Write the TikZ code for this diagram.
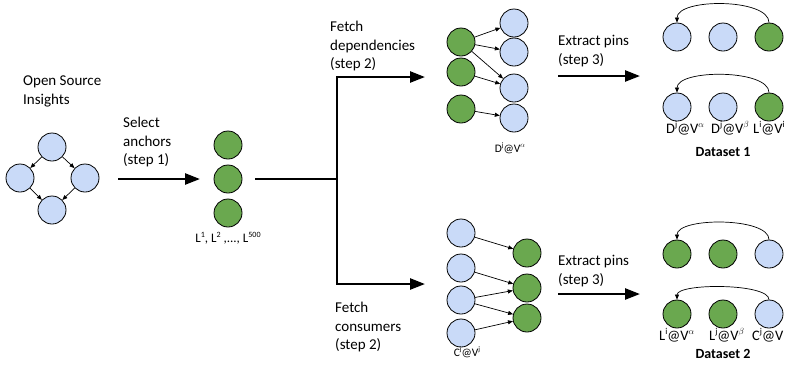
\documentclass[tikz,border=0pt]{standalone}
\usepackage{fontspec}
\setmainfont{Carlito}
\usetikzlibrary{arrows.meta}
\definecolor{lblue}{HTML}{C9DAF8}
\definecolor{lgreen}{HTML}{6AA84F}
\newcommand\supr[1]{\raisebox{0.42em}{\scalebox{0.62}{#1}}}
\begin{document}
\begin{tikzpicture}[x=1pt,y=-1pt,
  bnode/.style={circle,draw=black,line width=0.8pt,fill=lblue,minimum size=28pt,inner sep=0pt},
  gnode/.style={circle,draw=black,line width=0.8pt,fill=lgreen,minimum size=28pt,inner sep=0pt},
  lbl/.style={font=\fontsize{15}{18.5}\selectfont,align=left,anchor=north west,inner sep=0pt},
  small/.style={font=\fontsize{11.5}{13}\selectfont,inner sep=0pt},
  dlbl/.style={font=\fontsize{14.5}{16}\selectfont,inner sep=0pt,anchor=west},
  mainarrow/.style={line width=2.5pt,-{Triangle[length=15pt,width=11pt]}},
  mainline/.style={line width=2.5pt},
  edgearrow/.style={line width=0.7pt,-{Triangle[length=5pt,width=4pt]}},
  ]
\useasboundingbox (0,0) rectangle (786,376);

% Open Source Insights
\node[lbl] (osi) at (23,76) {Open Source\\Insights};
\node[bnode] (o1) at (52,147) {};
\node[bnode] (o2) at (20,178) {};
\node[bnode] (o3) at (85,178) {};
\node[bnode] (o4) at (52,210) {};
\draw[edgearrow] (o1) -- (o2);
\draw[edgearrow] (o1) -- (o3);
\draw[edgearrow] (o2) -- (o4);
\draw[edgearrow] (o3) -- (o4);

% Select anchors
\node[lbl] (sel) at (123,117) {Select\\anchors\\(step 1)};
\coordinate (s0) at (118,179);
\coordinate (s1) at (200,179);
\draw[mainarrow] (s0) -- (s1);
\node[gnode] (a1) at (228,145) {};
\node[gnode] (a2) at (228,179) {};
\node[gnode] (a3) at (228,213) {};
\node[small,font=\fontsize{13}{14}\selectfont] (alab) at (228,238) {L\supr{1}, L\supr{2} ,..., L\supr{500}};

% Fork
\coordinate (j0) at (255,179);
\coordinate (j) at (337,179);
\coordinate (te) at (425,77);
\coordinate (be) at (425,284);
\draw[mainline] (j0) -- (j);
\draw[mainarrow] (j) |- (te);
\draw[mainarrow] (j) |- (be);
\node[lbl] (fd) at (330,21) {Fetch\\dependencies\\(step 2)};
\node[lbl] (fc) at (335,302) {Fetch\\consumers\\(step 2)};

% Dependencies graph
\node[gnode] (g1) at (461,42) {};
\node[gnode] (g2) at (461,72) {};
\node[gnode] (g3) at (461,109) {};
\node[bnode] (b1) at (514,23) {};
\node[bnode] (b2) at (514,52) {};
\node[bnode] (b3) at (514,88) {};
\node[bnode] (b4) at (514,118) {};
\draw[edgearrow] (g1) -- (b1);
\draw[edgearrow] (g1) -- (b2);
\draw[edgearrow] (g1) -- (b3);
\draw[edgearrow] (g2) -- (b3);
\draw[edgearrow] (g3) -- (b4);
\node[small] (dlab) at (510,148) {D\supr{j}@V\supr{$\alpha$}};

% Consumers graph
\node[bnode] (c1) at (461,233) {};
\node[bnode] (c2) at (461,268) {};
\node[bnode] (c3) at (461,300) {};
\node[bnode] (c4) at (461,333) {};
\node[gnode] (k1) at (527,253) {};
\node[gnode] (k2) at (527,288) {};
\node[gnode] (k3) at (527,318) {};
\draw[edgearrow] (c1) -- (k1);
\draw[edgearrow] (c2) -- (k2);
\draw[edgearrow] (c3) -- (k2);
\draw[edgearrow] (c3) -- (k3);
\draw[edgearrow] (c4) -- (k3);
\node[small] (clab) at (467,352) {C\supr{j}@V\supr{j}};

% Extract pins
\node[lbl] (ep1) at (558,35) {Extract pins\\(step 3)};
\node[lbl] (ep2) at (558,255) {Extract pins\\(step 3)};
\coordinate (e1s) at (558,76);
\coordinate (e1e) at (640,76);
\coordinate (e2s) at (558,294);
\coordinate (e2e) at (640,294);
\draw[mainarrow] (e1s) -- (e1e);
\draw[mainarrow] (e2s) -- (e2e);

% Dataset 1
\node[bnode] (p11) at (677,37) {};
\node[bnode] (p12) at (723,37) {};
\node[gnode] (p13) at (769,37) {};
\node[bnode] (p21) at (677,107) {};
\node[bnode] (p22) at (723,107) {};
\node[gnode] (p23) at (769,107) {};
\draw[edgearrow] (p13.north) .. controls (769,-2) and (677,-2) .. (p11.north);
\draw[edgearrow] (p23.north) .. controls (769,69) and (677,69) .. (p21.north);
\node[dlbl] (l11) at (666,128) {D\supr{j}@V\supr{$\alpha$}};
\node[dlbl] (l12) at (711,128) {D\supr{j}@V\supr{$\beta$}};
\node[dlbl] (l13) at (753,128) {L\supr{i}@V\supr{i}};
\node[dlbl,anchor=center,font=\fontsize{14}{16}\selectfont\bfseries] (ds1) at (723,152) {Dataset 1};

% Dataset 2
\node[gnode] (q11) at (677,254) {};
\node[gnode] (q12) at (723,254) {};
\node[bnode] (q13) at (769,254) {};
\node[gnode] (q21) at (677,314) {};
\node[gnode] (q22) at (723,314) {};
\node[bnode] (q23) at (769,314) {};
\draw[edgearrow] (q13.north) .. controls (769,217) and (677,217) .. (q11.north);
\draw[edgearrow] (q23.north) .. controls (769,283) and (677,283) .. (q21.north);
\node[dlbl] (m11) at (659,335) {L\supr{i}@V\supr{$\alpha$}};
\node[dlbl] (m12) at (709,335) {L\supr{j}@V\supr{$\beta$}};
\node[dlbl] (m13) at (752,335) {C\supr{j}@V};
\node[dlbl,anchor=center,font=\fontsize{14}{16}\selectfont\bfseries] (ds2) at (723,354) {Dataset 2};
\end{tikzpicture}
\end{document}
